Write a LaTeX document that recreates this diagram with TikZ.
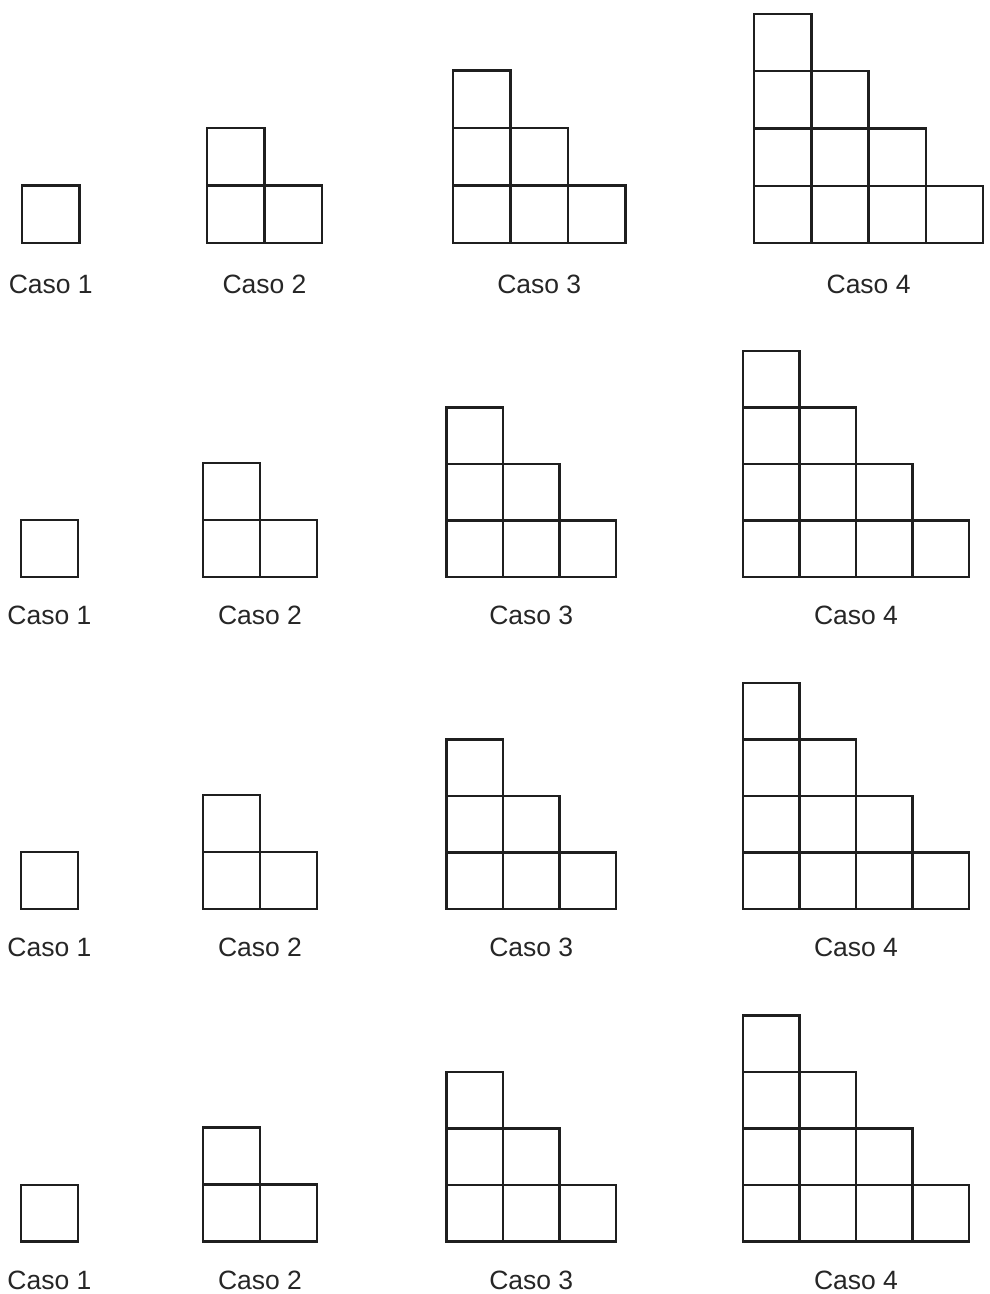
\documentclass[tikz,border=0pt]{standalone}
\usepackage{fontspec}
\setmainfont{Liberation Sans}
\tikzset{
  cell/.style={draw=black!88, line width=2.4pt, line join=miter},
  caselabel/.style={font=\fontsize{26.5}{30}\selectfont, text=black!85, anchor=base, inner sep=0pt}
}
% \stair{n}{left x}{base y}{size}{label}{label offset}
\newcommand{\stair}[6]{%
  \foreach \c in {1,...,#1}{%
    \pgfmathtruncatemacro{\h}{#1-\c+1}%
    \foreach \r in {1,...,\h}{%
      \draw[cell] ({#2+(\c-1)*#4},{#3-(\r-1)*#4}) rectangle ++(#4,-#4);
    }%
  }%
  \node[caselabel] at ({#2+#1*#4/2},{#3+#6}) {#5};%
}
\begin{document}
\begin{tikzpicture}[x=1pt,y=-1pt]
\useasboundingbox (0,0) rectangle (989,1294);
% row 1
\stair{1}{22}{243}{57.5}{Caso 1}{50}
\stair{2}{207}{243}{57.5}{Caso 2}{50}
\stair{3}{453}{243}{57.5}{Caso 3}{50}
\stair{4}{754}{243}{57.3}{Caso 4}{50}
% rows 2-4
\foreach \b in {577,909,1241.5}{
  \stair{1}{21}{\b}{56.8}{Caso 1}{47.5}
  \stair{2}{203}{\b}{57}{Caso 2}{47.5}
  \stair{3}{446.5}{\b}{56.5}{Caso 3}{47.5}
  \stair{4}{743}{\b}{56.5}{Caso 4}{47.5}
}
\end{tikzpicture}
\end{document}
